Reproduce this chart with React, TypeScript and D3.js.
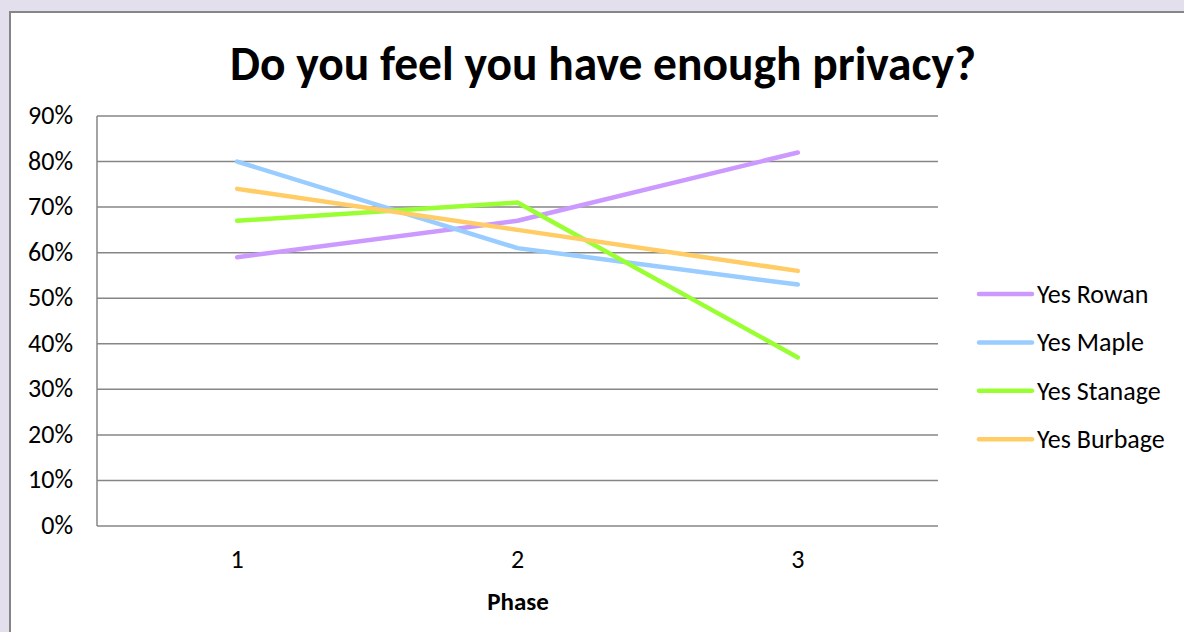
import React from "react";
import * as d3 from "d3";

const phases = ["1", "2", "3"];
const yTicks = [0, 10, 20, 30, 40, 50, 60, 70, 80, 90];
const seriesNames = ["Yes Rowan", "Yes Maple", "Yes Stanage", "Yes Burbage"];
const rowan = [59, 67, 82];
const maple = [80, 61, 53];
const stanage = [67, 71, 37];
const burbage = [74, 65, 56];
const seriesColors = ["#cc99ff", "#99ccff", "#99ff33", "#ffcc66"];

const W = 1184;
const H = 632;
const left = 97;
const right = 938;
const top = 116;
const bottom = 526;

export default function App() {
  const x = d3.scaleBand<string>().domain(phases).range([left, right]);
  const y = d3.scaleLinear().domain([0, 90]).range([bottom, top]);
  const data = [rowan, maple, stanage, burbage];
  const line = d3
    .line<number>()
    .x((_, i) => (x(phases[i]) as number) + x.bandwidth() / 2)
    .y((d) => y(d));
  const font = "Carlito, 'Open Sans', 'Noto Sans', sans-serif";
  return (
    <svg
      width={W}
      height={H}
      style={{ position: "absolute", left: 0, top: 0, fontFamily: font }}
    >
      <rect x={0} y={0} width={W} height={H} fill="#e4dfec" />
      <rect x={10} y={12} width={W + 10} height={H + 10} fill="#ffffff" stroke="#868686" strokeWidth={2} />
      <text x={603} y={80} textAnchor="middle" fontSize={47.5} fontWeight="bold" fill="#000">
        Do you feel you have enough privacy?
      </text>
      {yTicks.map((t) => (
        <g key={t}>
          {t > 0 && (
            <line x1={left} x2={right} y1={y(t)} y2={y(t)} stroke="#868686" strokeWidth={1.5} />
          )}
          <text x={73} y={y(t) + 8} textAnchor="end" fontSize={26} fill="#000">
            {t}%
          </text>
        </g>
      ))}
      <line x1={left} x2={left} y1={top} y2={bottom} stroke="#868686" strokeWidth={1.5} />
      <line x1={left} x2={right} y1={bottom} y2={bottom} stroke="#868686" strokeWidth={1.5} />
      {phases.map((p) => (
        <text
          key={p}
          x={(x(p) as number) + x.bandwidth() / 2}
          y={568}
          textAnchor="middle"
          fontSize={26}
          fill="#000"
        >
          {p}
        </text>
      ))}
      <text x={518} y={610} textAnchor="middle" fontSize={25} fontWeight="bold" fill="#000">
        Phase
      </text>
      {data.map((d, i) => (
        <path
          key={i}
          d={line(d) || ""}
          fill="none"
          stroke={seriesColors[i]}
          strokeWidth={4.5}
          strokeLinecap="round"
          strokeLinejoin="round"
        />
      ))}
      {seriesNames.map((n, i) => {
        const ly = 294 + i * 48.4;
        return (
          <g key={n}>
            <line x1={979} x2={1032} y1={ly} y2={ly} stroke={seriesColors[i]} strokeWidth={4.5} strokeLinecap="round" />
            <text x={1037} y={ly + 9} fontSize={26} fill="#000">
              {n}
            </text>
          </g>
        );
      })}
    </svg>
  );
}
